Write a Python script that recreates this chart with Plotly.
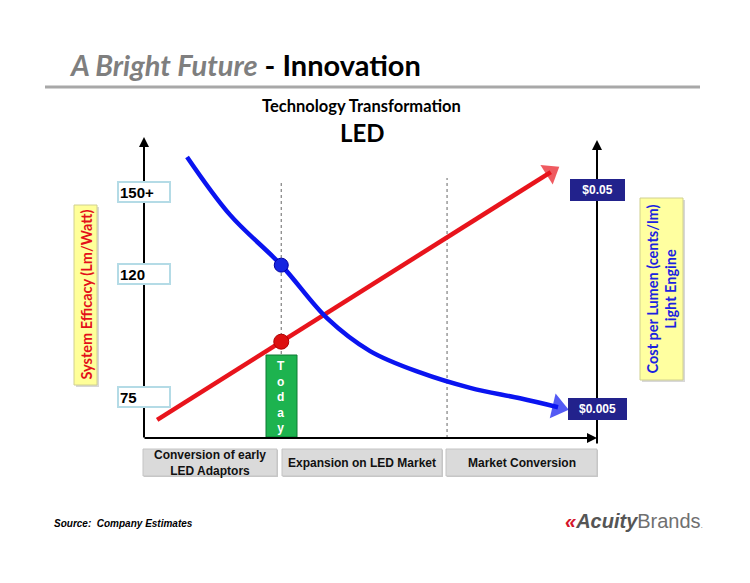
import math
import plotly.graph_objects as go

# ---------------- data ----------------
# x: abstract timeline (0 = start of axis, 100 = right axis)
today_x = 30.3
phase_split_x = 66.9

# System efficacy (Lm/Watt) - red line, left axis
eff_x = [2.9, today_x, 89.8]
eff_y = [66.6, 95.2, 157.2]
eff_ticks = [150, 120, 75]
eff_tick_labels = ["150+", "120", "75"]

# Cost per lumen - blue curve, right (log) axis
cost_x = [9.5, 19.0, today_x, 40.4, 49.9, 60.9, 72.0, 83.0, 91.4]
cost_y = [0.0708, 0.0385, 0.0227, 0.0130, 0.0092, 0.00735, 0.00625, 0.00560, 0.00510]
cost_ticks = [0.05, 0.005]
cost_tick_labels = ["$0.05", "$0.005"]

phases = ["Conversion of early<br>LED Adaptors", "Expansion on LED Market", "Market Conversion"]

# ---------------- layout helpers (pixel -> paper) ----------------
L, R, T, B = 144, 597, 137, 438
W, H = 750, 583


def PX(x):
    return (x - L) / (R - L)


def PY(y):
    return (B - y) / (B - T)


fig = go.Figure()

# red efficacy line with arrow head
fig.add_trace(go.Scatter(
    x=eff_x, y=eff_y, mode="lines+markers", yaxis="y",
    line=dict(color="#e8141c", width=4.5),
    marker=dict(symbol=["circle", "circle", "triangle-up"], size=[0, 0, 20],
                angleref="previous", color="#e8141c", line=dict(width=0)),
    hoverinfo="skip", showlegend=False))
# blue cost curve with arrow head
n = len(cost_x)
fig.add_trace(go.Scatter(
    x=cost_x, y=cost_y, mode="lines+markers", yaxis="y2",
    line=dict(color="#0a14f0", width=4.5, shape="spline", smoothing=1.0),
    marker=dict(symbol=["circle"] * (n - 1) + ["triangle-up"], size=[0] * (n - 1) + [22],
                angleref="previous", color="#0a14f0", line=dict(width=0)),
    hoverinfo="skip", showlegend=False))
# today dots
fig.add_trace(go.Scatter(
    x=[today_x], y=[eff_y[1]], mode="markers", yaxis="y",
    marker=dict(size=15, color="#dd1010", line=dict(color="#b00000", width=1)),
    hoverinfo="skip", showlegend=False))
fig.add_trace(go.Scatter(
    x=[today_x], y=[cost_y[2]], mode="markers", yaxis="y2",
    marker=dict(size=14, color="#1525e0", line=dict(color="#0000a0", width=1)),
    hoverinfo="skip", showlegend=False))

shapes = []
annotations = []

# dotted vertical markers
shapes.append(dict(type="line", xref="x", yref="y", x0=today_x, x1=today_x, y0=60, y1=153.2,
                   line=dict(color="#808080", width=1.2, dash="dot"), layer="below"))
shapes.append(dict(type="line", xref="x", yref="y", x0=phase_split_x, x1=phase_split_x, y0=60, y1=155,
                   line=dict(color="#808080", width=1.2, dash="dot"), layer="below"))

# title rule
shapes.append(dict(type="line", xref="paper", yref="paper", x0=PX(45), x1=PX(700), y0=PY(87), y1=PY(87),
                   line=dict(color="#a8a8a8", width=3)))


def rect(x0, y0, x1, y1, fill, line_color=None, lw=0):
    shapes.append(dict(type="rect", xref="paper", yref="paper",
                       x0=PX(x0), x1=PX(x1), y0=PY(y1), y1=PY(y0),
                       fillcolor=fill, line=dict(color=line_color or fill, width=lw)))


# yellow axis-title boxes (with soft shadow)
rect(76, 207, 99, 387, "#d8d8d8")
rect(74, 205, 97, 385, "#ffff99", "#d0d090", 1)
rect(642, 200, 685, 382, "#d8d8d8")
rect(640, 198, 683, 380, "#ffffa0", "#d0d090", 1)

# today box
rect(266, 355, 297, 437, "#1db34f", "#0f7a35", 1)

# phase boxes
phase_bounds = [(143, 277), (282, 442), (446, 597)]
for (x0, x1), label in zip(phase_bounds, phases):
    rect(x0 + 1, 450, x1 + 1, 477, "#c8c8c8")
    rect(x0, 449, x1, 476, "#dadada", "#c4c4c4", 1)
    annotations.append(dict(xref="paper", yref="paper", x=PX((x0 + x1) / 2), y=PY(462.5),
                            text="<b>" + label + "</b>", showarrow=False,
                            font=dict(family="Liberation Sans, Arial", size=12, color="#111111"),
                            xanchor="center", yanchor="middle"))

# axis arrows
annotations.append(dict(xref="paper", yref="paper", x=0, y=1, ax=0, ay=B - T + 1, text="",
                        showarrow=True, arrowhead=2, arrowsize=1, arrowwidth=2, arrowcolor="black",
                        standoff=0))
annotations.append(dict(xref="paper", yref="paper", x=1, y=0, ax=-(R - L) - 1, ay=0, text="",
                        showarrow=True, arrowhead=2, arrowsize=1, arrowwidth=2, arrowcolor="black",
                        standoff=0))
annotations.append(dict(xref="paper", yref="paper", x=1, y=PY(140), ax=0, ay=305, text="",
                        showarrow=True, arrowhead=2, arrowsize=1, arrowwidth=2, arrowcolor="black",
                        standoff=0))

# left tick labels
for v, lab in zip(eff_ticks, eff_tick_labels):
    annotations.append(dict(xref="paper", yref="y", x=0, y=v, text="<b>" + lab + "</b>",
                            showarrow=False, xanchor="center", yanchor="middle",
                            width=48, height=16, align="left", borderpad=1, borderwidth=2,
                            bordercolor="#b4dbe6", bgcolor="white",
                            font=dict(family="Liberation Sans, Arial", size=15, color="black")))
# right tick labels (log axis: annotation y in log10 units)
for v, lab, w in zip(cost_ticks, cost_tick_labels, [51, 55]):
    annotations.append(dict(xref="paper", yref="y2", x=1, y=math.log10(v), text="<b>" + lab + "</b>",
                            showarrow=False, xanchor="center", yanchor="middle",
                            width=w, height=18, align="center", borderpad=2, borderwidth=0,
                            bgcolor="#22228c",
                            font=dict(family="Liberation Sans, Arial", size=12, color="white")))

# axis titles
annotations.append(dict(xref="paper", yref="paper", x=PX(85.5), y=PY(295), textangle=-90,
                        text="<b>System Efficacy (Lm/Watt)</b>", showarrow=False,
                        xanchor="center", yanchor="middle",
                        font=dict(family="Lato, Open Sans", size=14.5, color="#e3101a")))
annotations.append(dict(xref="paper", yref="paper", x=PX(661.5), y=PY(289), textangle=-90,
                        text="<b>Cost per Lumen (cents/lm)<br>Light Engine</b>", showarrow=False,
                        xanchor="center", yanchor="middle",
                        font=dict(family="Lato, Open Sans", size=14.5, color="#1a22e0")))

# today text
annotations.append(dict(xref="x", yref="paper", x=today_x, y=PY(397),
                        text="<b>T<br>o<br>d<br>a<br>y</b>", showarrow=False,
                        xanchor="center", yanchor="middle",
                        font=dict(family="Liberation Sans, Arial", size=12, color="white")))

# titles
annotations.append(dict(xref="paper", yref="paper", x=PX(67), y=PY(64), xanchor="left", yanchor="middle",
                        text="<b><i><span style='color:#7f7f7f'>A Bright Future</span></i> - Innovation</b>",
                        showarrow=False, font=dict(family="Lato, Open Sans", size=29, color="black")))
annotations.append(dict(xref="paper", yref="paper", x=PX(361), y=PY(106), xanchor="center", yanchor="middle",
                        text="<b>Technology Transformation</b>", showarrow=False,
                        font=dict(family="Lato, Open Sans", size=16.5, color="black")))
annotations.append(dict(xref="paper", yref="paper", x=PX(362), y=PY(133), xanchor="center", yanchor="middle",
                        text="<b>LED</b>", showarrow=False,
                        font=dict(family="Lato, Open Sans", size=24, color="black")))

# footer
annotations.append(dict(xref="paper", yref="paper", x=PX(52), y=PY(523), xanchor="left", yanchor="middle",
                        text="<b><i>Source:  Company Estimates</i></b>", showarrow=False,
                        font=dict(family="Liberation Sans, Arial", size=10, color="black")))
annotations.append(dict(xref="paper", yref="paper", x=PX(563), y=PY(521), xanchor="left", yanchor="middle",
                        text="<span style='color:#d5142b'><b><i>«</i></b></span><b><i>Acuity</i></b><span style='color:#707070'>Brands</span><span style='font-size:7px'>.</span>",
                        showarrow=False,
                        font=dict(family="Liberation Sans, Arial", size=20, color="#555555")))

fig.update_layout(
    width=W, height=H,
    margin=dict(l=L, r=W - R, t=T, b=H - B, pad=0),
    paper_bgcolor="white", plot_bgcolor="white",
    xaxis=dict(range=[0, 100], visible=False, fixedrange=True),
    yaxis=dict(range=[60, 170], visible=False, fixedrange=True),
    yaxis2=dict(type="log", range=[-2.433, -1.059], overlaying="y", side="right",
                visible=False, fixedrange=True),
    shapes=shapes, annotations=annotations,
    showlegend=False, hovermode=False,
)

fig.write_html("out.html")
